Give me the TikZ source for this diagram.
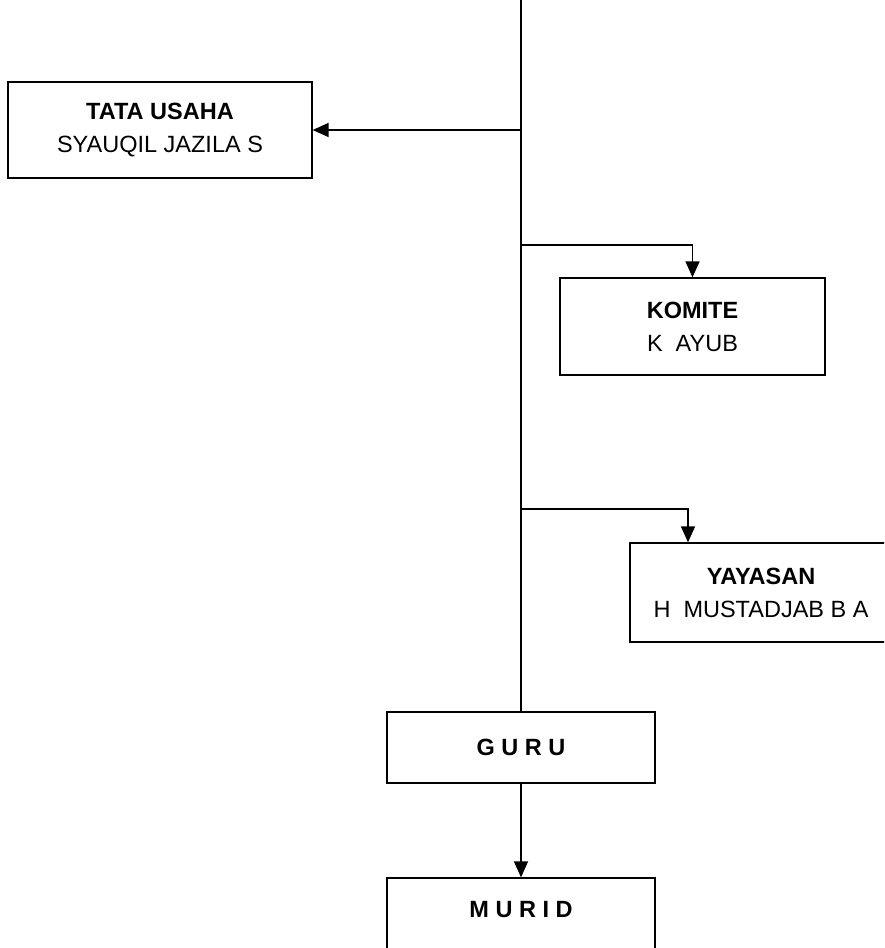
\documentclass[tikz,border=0pt]{standalone}
\usepackage{fontspec}
\setmainfont{Liberation Sans}
\usetikzlibrary{arrows.meta}
\begin{document}
\begin{tikzpicture}[x=1pt,y=-1pt,
  box/.style={draw, line width=1.3pt, inner sep=0pt, align=center, font=\fontsize{23.5}{33}\selectfont},
  conn/.style={line width=1.4pt},
  arr/.style={conn, -{Triangle[length=16pt,width=14pt]}}]
\clip (0,0) rectangle (884,948);
\fill[white] (0,0) rectangle (884,948);
% nodes
\node[box, minimum width=304pt, minimum height=96pt] (tata) at (160,130) {\textbf{TATA USAHA}\\SYAUQIL JAZILA S};
\node[box, minimum width=265pt, minimum height=97pt] (komite) at (692.5,326.5) {\textbf{KOMITE}\\K\ \ AYUB};
\node[box, minimum width=262pt, minimum height=99pt] (yayasan) at (761,592.5) {\textbf{YAYASAN}\\H\ \ MUSTADJAB B A};
\node[box, minimum width=268pt, minimum height=71pt] (guru) at (521,747.5) {\textbf{G U R U}};
\node[box, minimum width=268pt, minimum height=80pt, text depth=18pt] (murid) at (521,918) {\textbf{M U R I D}};
% trunk
\coordinate (top) at (521,-5);
\coordinate (j1) at (521,130);
\coordinate (j2) at (521,245);
\coordinate (j3) at (521,509);
\coordinate (k3) at (688,509);
\draw[conn] (top) -- (guru.north);
\draw[arr] (j1) -- (tata.east);
\draw[arr] (j2) -| (komite.north);
\draw[arr] (j3) -- (k3) -- (k3 |- yayasan.north);
\draw[arr] (guru.south) -- (murid.north);
\end{tikzpicture}
\end{document}
